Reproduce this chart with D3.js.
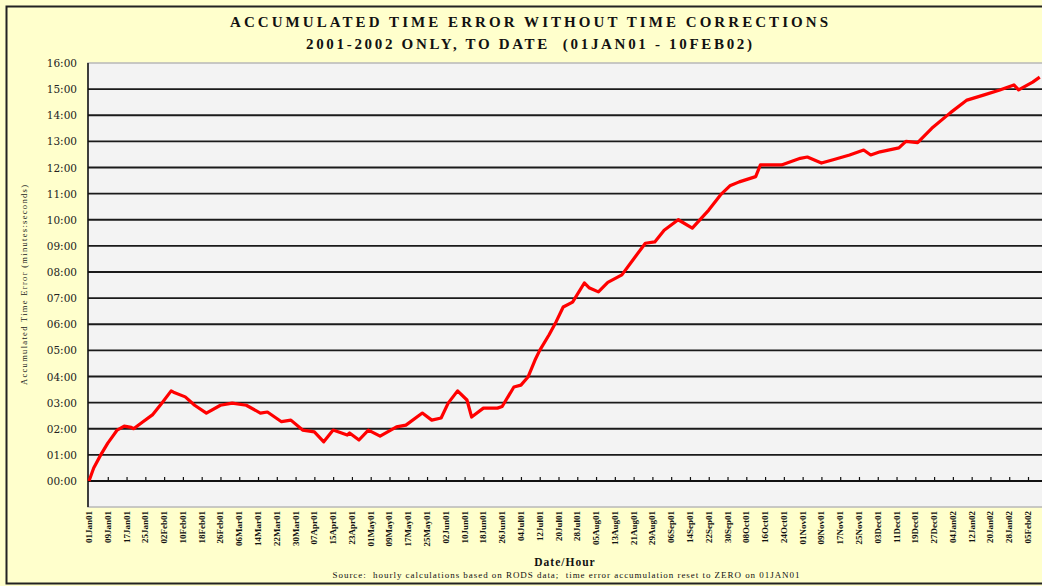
<!DOCTYPE html>
<html>
<head>
<meta charset="utf-8">
<title>Accumulated Time Error</title>
<script src="https://d3js.org/d3.v7.min.js"></script>
<style>
  body { margin: 0; background: #ffffcc; }
  svg { display: block; }
</style>
</head>
<body>
<script>
    // days counted from 01JAN01, error in minutes (decimal)
    var days = [0, 2, 5, 8, 10, 12, 15, 18, 19, 23, 27, 31, 35, 36, 41, 45, 50, 56, 61, 67,
                73, 76, 82, 86, 91, 96, 100, 104, 110, 111, 115, 119, 124, 131, 135, 142, 146, 150, 153, 157,
                161, 163, 168, 174, 176, 181, 184, 187, 190, 192, 196, 199, 202, 206, 211, 213, 217, 221, 227, 232,
                237, 241, 245, 251, 257, 264, 269, 273, 277, 284, 286, 295, 303, 306, 312, 317, 324, 330, 333, 337,
                345, 348, 353, 359, 367, 374, 381, 388, 394, 396, 402, 405];
    var errorMinutes = [0, 0.5, 1.0, 1.45, 1.7, 1.95, 2.1, 2.05, 2.0, 2.27, 2.53, 2.98, 3.45, 3.4, 3.22, 2.9, 2.6, 2.9, 2.98, 2.9,
                2.6, 2.64, 2.27, 2.33, 1.95, 1.88, 1.5, 1.95, 1.76, 1.84, 1.57, 1.95, 1.72, 2.07, 2.14, 2.6, 2.33, 2.41, 2.98, 3.45,
                3.1, 2.45, 2.79, 2.79, 2.85, 3.6, 3.67, 3.98, 4.63, 5.0, 5.6, 6.1, 6.66, 6.85, 7.58, 7.4, 7.24, 7.6, 7.89, 8.5,
                9.1, 9.15, 9.6, 10.0, 9.68, 10.37, 10.95, 11.3, 11.45, 11.65, 12.1, 12.1, 12.35, 12.4, 12.17, 12.3, 12.48, 12.67, 12.48, 12.6,
                12.75, 13.0, 12.95, 13.5, 14.1, 14.58, 14.77, 14.97, 15.16, 14.97, 15.27, 15.46];
    var xTickLabels = ["01Jan01","09Jan01","17Jan01","25Jan01","02Feb01","10Feb01","18Feb01","26Feb01",
                "06Mar01","14Mar01","22Mar01","30Mar01","07Apr01","15Apr01","23Apr01","01May01","09May01",
                "17May01","25May01","02Jun01","10Jun01","18Jun01","26Jun01","04Jul01","12Jul01","20Jul01",
                "28Jul01","05Aug01","13Aug01","21Aug01","29Aug01","06Sep01","14Sep01","22Sep01","30Sep01",
                "08Oct01","16Oct01","24Oct01","01Nov01","09Nov01","17Nov01","25Nov01","03Dec01","11Dec01",
                "19Dec01","27Dec01","04Jan02","12Jan02","20Jan02","28Jan02","05Feb02"];
    var yTickLabels = ["00:00","01:00","02:00","03:00","04:00","05:00","06:00","07:00","08:00",
                "09:00","10:00","11:00","12:00","13:00","14:00","15:00","16:00"];

    var w = 1042, h = 586;
    var start = new Date(2001, 0, 1);
    var plotLeft = 88, plotTop = 63, zeroY = 481, plotBottom = 507;

    var svg = d3.select("body").append("svg")
                .attr("width", w)
                .attr("height", h);

    // page and frame
    svg.append("rect").attr("width", w).attr("height", h).attr("fill", "#ffffcc");
    svg.append("rect")
        .attr("x", 6.5).attr("y", 6.5)
        .attr("width", 1060).attr("height", 577)
        .attr("fill", "#ffffcc")
        .attr("stroke", "#222").attr("stroke-width", 2);

    var x = d3.scaleTime()
              .domain([start, d3.timeDay.offset(start, 405)])
              .range([plotLeft + 1, plotLeft + 1 + 405 * 2.3475]);
    var y = d3.scaleLinear().domain([0, 16]).range([zeroY, plotTop]);

    // plot area
    svg.append("rect")
        .attr("x", plotLeft).attr("y", plotTop)
        .attr("width", w - plotLeft + 20).attr("height", plotBottom - plotTop)
        .attr("fill", "#f3f3f3")
        .attr("stroke", "#b8b8b8").attr("stroke-width", 1.5);

    // horizontal grid lines
    svg.append("g").selectAll("line")
        .data(d3.range(1, 16))
        .enter().append("line")
        .attr("x1", plotLeft).attr("x2", w)
        .attr("y1", function(d){ return y(d); })
        .attr("y2", function(d){ return y(d); })
        .attr("stroke", "#1a1a1a").attr("stroke-width", 1.8);

    // y axis labels
    svg.append("g").selectAll("text")
        .data(yTickLabels)
        .enter().append("text")
        .attr("x", 77)
        .attr("y", function(d, i){ return y(i) + 4; })
        .attr("text-anchor", "end")
        .attr("font-family", "DejaVu Serif")
        .attr("font-size", 10.5)
        .attr("fill", "#222")
        .text(function(d){ return d; });

    // x axis (zero line with ticks pointing up)
    var tickDates = xTickLabels.map(function(d, i){ return d3.timeDay.offset(start, i * 8); });
    var xAxis = d3.axisTop(x)
                  .tickValues(tickDates)
                  .tickSize(4)
                  .tickFormat("");
    var gx = svg.append("g")
        .attr("transform", "translate(0," + zeroY + ")")
        .call(xAxis);
    gx.select(".domain").remove();
    gx.selectAll(".tick line").attr("stroke", "#111").attr("stroke-width", 1.2);
    svg.append("line")
        .attr("x1", plotLeft).attr("x2", w)
        .attr("y1", zeroY).attr("y2", zeroY)
        .attr("stroke", "#111").attr("stroke-width", 1.8);

    // left axis line
    svg.append("line")
        .attr("x1", plotLeft).attr("x2", plotLeft)
        .attr("y1", plotTop).attr("y2", plotBottom)
        .attr("stroke", "#111").attr("stroke-width", 1.5);

    // x labels, rotated
    svg.append("g").selectAll("text")
        .data(xTickLabels)
        .enter().append("text")
        .attr("transform", function(d, i){
            return "translate(" + (x(tickDates[i]) + 3) + ",511) rotate(-90)";
        })
        .attr("text-anchor", "end")
        .attr("font-family", "Liberation Serif")
        .attr("font-weight", "bold")
        .attr("font-size", 9)
        .attr("fill", "#111")
        .text(function(d){ return d; });

    // data line
    var points = days.map(function(d, i){ return [d3.timeDay.offset(start, d), errorMinutes[i]]; });
    var line = d3.line()
                 .x(function(d){ return x(d[0]); })
                 .y(function(d){ return y(d[1]); })
                 .curve(d3.curveLinear);
    svg.append("path")
        .datum(points)
        .attr("d", line)
        .attr("fill", "none")
        .attr("stroke", "#ff0000")
        .attr("stroke-width", 3.2)
        .attr("stroke-linejoin", "round");

    // titles
    svg.append("text")
        .attr("x", 529).attr("y", 27)
        .attr("text-anchor", "middle")
        .attr("font-family", "Liberation Serif")
        .attr("font-weight", "bold")
        .attr("font-size", 15)
        .attr("textLength", 598).attr("lengthAdjust", "spacing")
        .attr("fill", "#111")
        .text("ACCUMULATED TIME ERROR WITHOUT TIME CORRECTIONS");
    svg.append("text")
        .attr("x", 529).attr("y", 49)
        .attr("text-anchor", "middle")
        .attr("font-family", "Liberation Serif")
        .attr("font-weight", "bold")
        .attr("font-size", 15)
        .attr("textLength", 446).attr("lengthAdjust", "spacing")
        .attr("fill", "#111")
        .style("white-space", "pre")
        .text("2001-2002 ONLY, TO DATE  (01JAN01 - 10FEB02)");

    svg.append("text")
        .attr("transform", "translate(27,285) rotate(-90)")
        .attr("text-anchor", "middle")
        .attr("font-family", "Liberation Serif")
        .attr("font-size", 8.5)
        .attr("textLength", 200).attr("lengthAdjust", "spacing")
        .attr("fill", "#222")
        .text("Accumulated Time Error (minutes:seconds)");

    svg.append("text")
        .attr("x", 565).attr("y", 566)
        .attr("text-anchor", "middle")
        .attr("font-family", "Liberation Serif")
        .attr("font-weight", "bold")
        .attr("font-size", 11.5)
        .attr("letter-spacing", 1)
        .attr("fill", "#111")
        .text("Date/Hour");

    svg.append("text")
        .attr("x", 566).attr("y", 578)
        .attr("text-anchor", "middle")
        .attr("font-family", "Liberation Serif")
        .attr("font-size", 9)
        .attr("textLength", 467).attr("lengthAdjust", "spacing")
        .attr("fill", "#111")
        .style("white-space", "pre")
        .text("Source:  hourly calculations based on RODS data;  time error accumulation reset to ZERO on 01JAN01");
</script>
</body>
</html>
